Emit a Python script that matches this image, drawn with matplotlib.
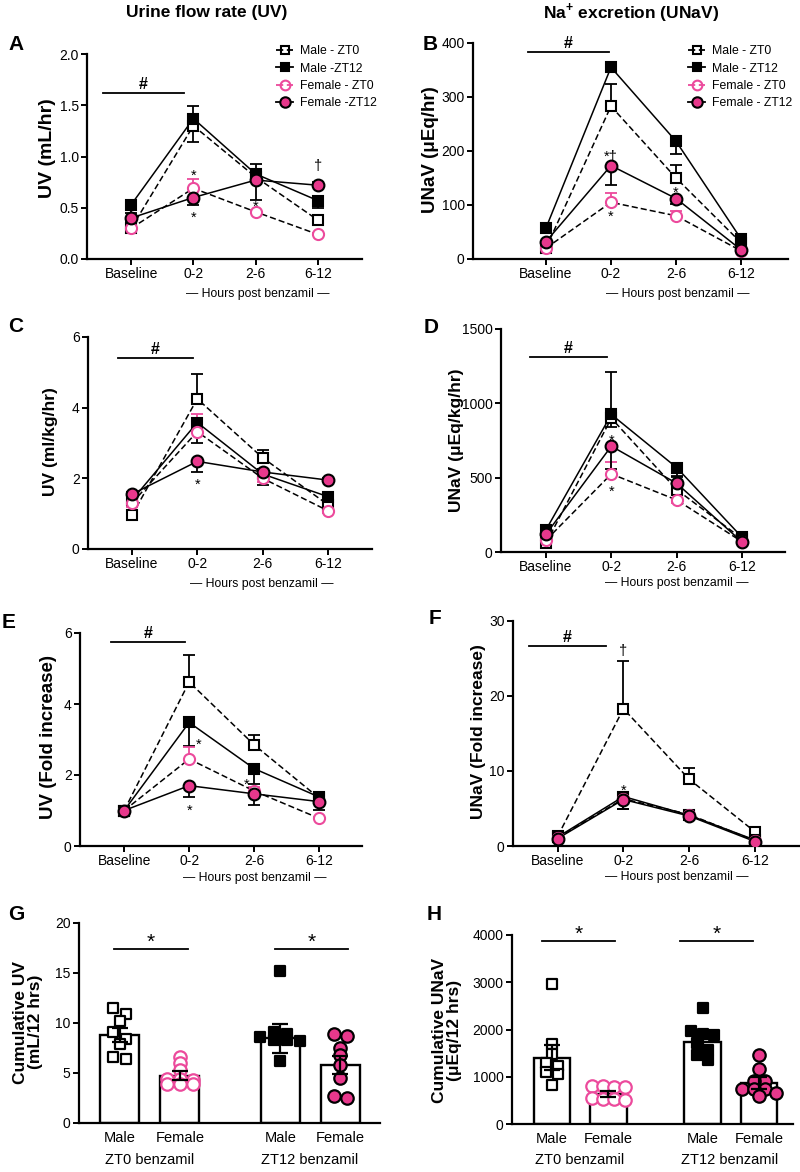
import numpy as np
import matplotlib.pyplot as plt
from matplotlib.lines import Line2D

plt.rcParams['font.family'] = ['Liberation Sans', 'DejaVu Sans']
plt.rcParams['mathtext.fontset'] = 'custom'
plt.rcParams['mathtext.rm'] = 'Liberation Sans'
plt.rcParams['mathtext.bf'] = 'Liberation Sans:bold'

# time points
times = ['Baseline', '0-2', '2-6', '6-12']
groups = ['Male - ZT0', 'Male - ZT12', 'Female - ZT0', 'Female - ZT12']

# rows: male ZT0, male ZT12, female ZT0, female ZT12
# err: + = bar drawn up, - = bar drawn down
uv_hr = [[0.30, 1.30, 0.80, 0.38],
         [0.53, 1.37, 0.83, 0.57],
         [0.30, 0.69, 0.46, 0.24],
         [0.40, 0.60, 0.77, 0.72]]
uv_hr_err = [[-0.03, -0.16, 0.0, -0.03],
             [-0.08, 0.12, 0.10, -0.07],
             [0.02, 0.09, 0.02, 0.01],
             [-0.04, -0.07, -0.19, 0.03]]

una_hr = [[20, 283, 150, 30],
          [57, 355, 218, 37],
          [20, 105, 80, 15],
          [32, 173, 112, 17]]
una_hr_err = [[5, 42, 25, -5],
              [-5, 8, -23, 4],
              [3, 17, 8, 2],
              [-8, -36, -10, -3]]

uv_kg = [[0.95, 4.25, 2.58, 1.25],
         [1.38, 3.58, 2.12, 1.48],
         [1.30, 3.32, 2.00, 1.08],
         [1.55, 2.48, 2.18, 1.95]]
uv_kg_err = [[-0.1, 0.70, 0.22, -0.1],
             [-0.15, -0.58, -0.32, 0.14],
             [-0.12, 0.50, -0.10, -0.05],
             [0.05, -0.30, 0.05, 0.05]]

una_kg = [[60, 900, 420, 90],
          [150, 925, 568, 100],
          [80, 525, 350, 70],
          [120, 712, 462, 68]]
una_kg_err = [[-15, -60, -30, -10],
              [15, 285, -60, 10],
              [-10, 80, -20, -5],
              [20, -155, 45, -5]]

uv_fold = [[1.0, 4.62, 2.85, 1.35],
           [1.0, 3.48, 2.18, 1.38],
           [1.0, 2.45, 1.55, 0.78],
           [1.0, 1.70, 1.47, 1.25]]
uv_fold_err = [[0, 0.75, 0.28, -0.05],
               [0, -0.65, -0.43, -0.1],
               [0, 0.35, 0.10, -0.03],
               [0, -0.32, -0.32, -0.23]]

una_fold = [[1.3, 18.3, 8.9, 1.9],
            [1.2, 6.6, 4.1, 0.8],
            [1.1, 6.3, 4.2, 0.7],
            [1.0, 6.2, 4.0, 0.6]]
una_fold_err = [[0.2, 6.4, 1.5, 0.3],
                [0.2, -1.7, 0.3, 0.1],
                [0.2, 0.5, 0.4, 0.1],
                [0.1, -1.3, -0.3, 0.1]]

# cumulative panels
bar_labels = ['Male', 'Female', 'Male', 'Female']
cum_uv_mean = [8.8, 4.75, 8.5, 5.85]
cum_uv_sem = [0.7, 0.45, 1.45, 0.9]
g_male_zt0 = [11.5, 10.9, 10.2, 9.1, 8.4, 7.9, 6.6, 6.4]
g_female_zt0 = [6.6, 6.0, 5.3, 4.4, 4.4, 4.3, 3.9, 3.9, 3.9]
g_male_zt12 = [15.2, 9.1, 8.9, 8.6, 8.3, 8.3, 8.2, 6.2]
g_female_zt12 = [8.9, 8.7, 7.5, 6.8, 5.85, 4.5, 2.7, 2.5]

cum_na_mean = [1400, 640, 1740, 870]
cum_na_sem = [265, 60, 110, 130]
h_male_zt0 = [2965, 1690, 1480, 1300, 1230, 1100, 1050, 820]
h_female_zt0 = [810, 800, 790, 780, 540, 530, 520, 510]
h_male_zt12 = [2450, 1960, 1910, 1890, 1710, 1560, 1470, 1360]
h_female_zt12 = [1450, 1160, 900, 900, 740, 740, 740, 655, 600]

pink = '#E8388C'
pink_open = '#EC4A9C'

W, H = 800, 1172
fig = plt.figure(figsize=(W / 100, H / 100), dpi=100)


def px_axes(x0, y0, x1, y1):
    return fig.add_axes([x0 / W, 1 - y1 / H, (x1 - x0) / W, (y1 - y0) / H])


def ftext(x, y, s, **kw):
    fig.text(x / W, 1 - y / H, s, **kw)


def style(ax):
    for s in ['top', 'right']:
        ax.spines[s].set_visible(False)
    for s in ['left', 'bottom']:
        ax.spines[s].set_linewidth(1.6)
    ax.tick_params(direction='out', length=4, width=1.4, labelsize=10, pad=2)


def mark(ax, x, y, s, size=10.5, off=0.58, **kw):
    ax.annotate(s, (x, y), xytext=(0, -off * size), textcoords='offset points',
                ha='center', va='baseline', fontsize=size, **kw)


series_style = [
    dict(marker='s', mfc='white', mec='black', ls=(0, (4, 2)), ms=7, ec='black'),
    dict(marker='s', mfc='black', mec='black', ls='-', ms=7, ec='black'),
    dict(marker='o', mfc='white', mec=pink_open, ls=(0, (4, 2)), ms=8, ec=pink_open),
    dict(marker='o', mfc=pink, mec='black', ls='-', ms=8.5, ec='black'),
]


def time_panel(ax, vals, errs, xlim, ylim, yticks, fmt):
    x = np.arange(len(times))
    for v, e, st in zip(vals, errs, series_style):
        e = np.array(e, dtype=float)
        lo = np.where(e < 0, -e, 0)
        hi = np.where(e > 0, e, 0)
        ax.errorbar(x, v, yerr=[lo, hi], fmt='none', ecolor=st['ec'],
                    elinewidth=1.3, capsize=4, capthick=1.3, zorder=2)
        ax.plot(x, v, color='black', lw=1.1, ls=st['ls'], zorder=3)
        ax.plot(x, v, ls='none', marker=st['marker'], ms=st['ms'],
                mfc=st['mfc'], mec=st['mec'], mew=1.5, zorder=4)
    ax.set_xlim(xlim)
    ax.set_ylim(ylim)
    ax.set_xticks(x, times)
    ax.set_yticks(yticks)
    ax.set_yticklabels([fmt.format(t) for t in yticks])
    style(ax)


def hash_bar(ax, x0, x1, y):
    ax.plot([x0, x1], [y, y], color='black', lw=1.3, clip_on=False)
    mark(ax, (x0 + x1) / 2, y, '#', size=11.5, off=-0.25, fontweight='bold')


def legend(ax, labels, x, y):
    hs = []
    for st in series_style:
        mfc = 'none' if st['mfc'] == 'white' else st['mfc']
        col = pink_open if st['mec'] == pink_open else 'black'
        hs.append(Line2D([], [], color=col, lw=1.3, ls=st['ls'], marker=st['marker'],
                         ms=st['ms'] - 1, mfc=mfc, mec=st['mec'], mew=1.5))
    ax.legend(hs, labels, loc='upper left', bbox_to_anchor=(x / W, 1 - y / H),
              bbox_transform=fig.transFigure, frameon=False, fontsize=8.8,
              handlelength=1.4, handletextpad=0.6, labelspacing=0.45,
              borderpad=0, borderaxespad=0)


# A
axA = px_axes(87, 54, 362, 259)
time_panel(axA, uv_hr, uv_hr_err, (-0.71, 3.71), (0, 2.0), [0, 0.5, 1.0, 1.5, 2.0], '{:.1f}')
legend(axA, ['Male - ZT0', 'Male -ZT12', 'Female - ZT0', 'Female -ZT12'], 276, 45)
hash_bar(axA, -0.45, 0.85, 1.62)
mark(axA, 1, 0.86, '*')
mark(axA, 1, 0.45, '*')
mark(axA, 2, 0.55, '*')
mark(axA, 3, 0.91, '†', off=0.3)

# B
axB = px_axes(473, 43, 788, 259)
time_panel(axB, una_hr, una_hr_err, (-1.12, 3.72), (0, 400), [0, 100, 200, 300, 400], '{:d}')
legend(axB, groups, 688, 45)
hash_bar(axB, -0.28, 0.97, 383)
mark(axB, 1, 193, '*†', off=0.45)
mark(axB, 1, 86, '*')
mark(axB, 2, 131, '*')

# C
axC = px_axes(88, 337, 372, 549)
time_panel(axC, uv_kg, uv_kg_err, (-0.67, 3.67), (0, 6), [0, 2, 4, 6], '{:d}')
hash_bar(axC, -0.21, 0.93, 5.4)
mark(axC, 1, 1.95, '*')

# D
axD = px_axes(501, 329, 785, 552)
time_panel(axD, una_kg, una_kg_err, (-0.69, 3.66), (0, 1500), [0, 500, 1000, 1500], '{:d}')
hash_bar(axD, -0.25, 0.93, 1311)
mark(axD, 1, 776, '*')
mark(axD, 1, 438, '*')

# E
axE = px_axes(80, 633, 362, 846)
time_panel(axE, uv_fold, uv_fold_err, (-0.68, 3.66), (0, 6), [0, 2, 4, 6], '{:d}')
hash_bar(axE, -0.2, 0.94, 5.74)
mark(axE, 1.15, 2.97, '*')
mark(axE, 1, 1.11, '*')
mark(axE, 1.89, 1.86, '*')

# F
axF = px_axes(513, 621, 799, 846)
time_panel(axF, una_fold, una_fold_err, (-0.68, 3.67), (0, 30), [0, 10, 20, 30], '{:d}')
hash_bar(axF, -0.44, 0.73, 26.7)
mark(axF, 1, 26.0, '†', off=0.3)
mark(axF, 1, 7.9, '*')


def rows_offsets(vals, dy, dx):
    # group near values into rows and centre each row like a scatter dot plot
    order = np.argsort(vals)[::-1]
    offs = np.zeros(len(vals))
    row = []
    for i in list(order) + [None]:
        if i is not None and row and vals[row[0]] - vals[i] < dy:
            row.append(i)
            continue
        for k, j in enumerate(row):
            offs[j] = (k - (len(row) - 1) / 2) * dx
        row = [i]
    return offs


bar_pos = [0, 1, 2.67, 3.67]
bar_pts_style = [
    dict(marker='s', fc='white', ec='black', s=62),
    dict(marker='o', fc='white', ec=pink_open, s=80),
    dict(marker='s', fc='black', ec='black', s=62),
    dict(marker='o', fc=pink, ec='black', s=80),
]


def bar_panel(ax, means, sems, pts, xlim, ylim, yticks, dys, dx):
    ax.bar(bar_pos, means, width=0.65, color='white', edgecolor='black', lw=1.7, zorder=1)
    for p, vals, st, dy in zip(bar_pos, pts, bar_pts_style, dys):
        xs = p + rows_offsets(np.array(vals, dtype=float), dy, dx)
        ax.scatter(xs, vals, marker=st['marker'], s=st['s'], facecolor=st['fc'],
                   edgecolor=st['ec'], linewidths=1.6, zorder=3)
    ax.errorbar(bar_pos, means, yerr=sems, fmt='none', ecolor='black',
                elinewidth=1.6, capsize=6, capthick=1.6, zorder=4)
    ax.set_xlim(xlim)
    ax.set_ylim(ylim)
    ax.set_xticks(bar_pos, bar_labels)
    ax.set_yticks(yticks)
    style(ax)
    ax.tick_params(axis='x', length=0, pad=6, labelsize=10.5)


def sig_bar(ax, x0, x1, y):
    ax.plot([x0, x1], [y, y], color='black', lw=1.3, clip_on=False)
    mark(ax, (x0 + x1) / 2, y, '*', size=15, off=-0.05)


# G
axG = px_axes(79, 923, 380, 1123)
bar_panel(axG, cum_uv_mean, cum_uv_sem, [g_male_zt0, g_female_zt0, g_male_zt12, g_female_zt12],
          (-0.68, 4.33), (0, 20), [0, 5, 10, 15, 20], [0.8, 0.45, 0.45, 0.5], 0.22)
sig_bar(axG, -0.1, 1.13, 17.4)
sig_bar(axG, 2.58, 3.8, 17.4)

# H
axH = px_axes(512, 935, 793, 1124)
bar_panel(axH, cum_na_mean, cum_na_sem, [h_male_zt0, h_female_zt0, h_male_zt12, h_female_zt12],
          (-0.71, 4.27), (0, 4000), [0, 1000, 2000, 3000, 4000], [150, 150, 180, 90], 0.2)
sig_bar(axH, -0.18, 1.11, 3880)
sig_bar(axH, 2.27, 3.56, 3880)

# titles, panel letters, axis labels
ftext(207, 13, 'Urine flow rate (UV)', ha='center', va='center', fontsize=12.5, fontweight='bold')
ftext(631, 13, r'Na$^{\mathbf{+}}$ excretion (UNaV)', ha='center', va='center', fontsize=12.5,
      fontweight='bold')
for s, x, y in [('A', 16, 44), ('B', 430, 45), ('C', 16, 327), ('D', 431, 328),
                ('E', 9, 622), ('F', 435, 619), ('G', 16, 915), ('H', 434, 915)]:
    ftext(x, y, s, ha='center', va='center', fontsize=15, fontweight='bold')

ylab = dict(ha='center', va='center', rotation=90, fontweight='bold')
ftext(48, 148, 'UV (mL/hr)', fontsize=14, **ylab)
ftext(431, 150, 'UNaV (μEq/hr)', fontsize=13.5, **ylab)
ftext(50, 442, 'UV (ml/kg/hr)', fontsize=12.5, **ylab)
ftext(457, 440, 'UNaV (μEq/kg/hr)', fontsize=12.5, **ylab)
ftext(49, 737, 'UV (Fold increase)', fontsize=13.5, **ylab)
ftext(479, 732, 'UNaV (Fold increase)', fontsize=12.5, **ylab)
ftext(28, 1022, 'Cumulative UV\n(mL/12 hrs)', fontsize=12.5, linespacing=1.05, **ylab)
ftext(447, 1030, 'Cumulative UNaV\n(μEq/12 hrs)', fontsize=12.5, linespacing=1.05, **ylab)

hrs = '— Hours post benzamil —'
for x, y in [(258, 294), (678, 294), (262, 584), (677, 583), (255, 878), (677, 877)]:
    ftext(x, y, hrs, ha='center', va='center', fontsize=8.8)

for x, s in [(150, 'ZT0 benzamil'), (310, 'ZT12 benzamil'), (580, 'ZT0 benzamil'), (730, 'ZT12 benzamil')]:
    ftext(x, 1160, s, ha='center', va='center', fontsize=10.5)

fig.savefig('out.png', dpi=100)
